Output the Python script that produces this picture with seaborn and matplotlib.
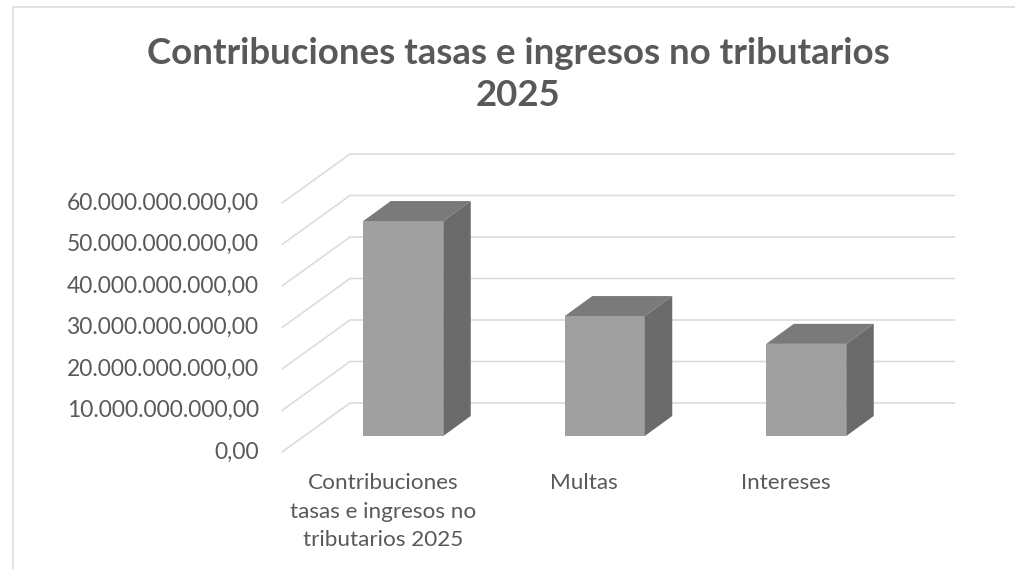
import matplotlib
matplotlib.use("Agg")
import matplotlib.pyplot as plt
import pandas as pd
import seaborn as sns
from matplotlib.patches import Polygon
from matplotlib.lines import Line2D
from matplotlib.transforms import ScaledTranslation

categories = ["Contribuciones\ntasas e ingresos no\ntributarios 2025", "Multas", "Intereses"]
values = [51.8e9, 28.9e9, 22.2e9]
y_ticks = [0, 10e9, 20e9, 30e9, 40e9, 50e9, 60e9]
y_labels = ["0,00", "10.000.000.000,00", "20.000.000.000,00", "30.000.000.000,00",
            "40.000.000.000,00", "50.000.000.000,00", "60.000.000.000,00"]
title = "Contribuciones tasas e ingresos no tributarios\n2025"

W, H = 1015, 569
TXT = "#595959"
GRID = "#dcdcdc"
FRONT, TOP, SIDE = "#a0a0a0", "#7a7a7a", "#6b6b6b"

sns.set_theme(style="white")
plt.rcParams["font.family"] = ["Lato", "DejaVu Sans"]

fig = plt.figure(figsize=(W / 100, H / 100), dpi=100, facecolor="white")
L, R, B, T = 282, 886.5, 452, 203
ax = fig.add_axes([L / W, 1 - B / H, (R - L) / W, (B - T) / H])
ax.patch.set_alpha(0)

df = pd.DataFrame({"categoria": categories, "valor": values})
sns.barplot(data=df, x="categoria", y="valor", color=FRONT, saturation=1,
            width=80 / 201.5, ax=ax, zorder=3)
ax.set_xlim(-0.5, 2.5)
ax.set_ylim(0, 60e9)
ax.set_xlabel("")
ax.set_ylabel("")

# oblique-projection depth, expressed in data units
px_x = 3 / (R - L)
px_y = 60e9 / (B - T)
wall_dx, wall_dy = 68 * px_x, 49 * px_y
bar_dx, bar_dy = 20.5 * px_x, 16 * px_y
deep_dx, deep_dy = 27.5 * px_x, 20 * px_y

# walls: gridlines
for v in y_ticks:
    ax.add_line(Line2D([-0.5, -0.5 + wall_dx, 2.5 + wall_dx], [v, v + wall_dy, v + wall_dy],
                       color=GRID, lw=1.2, clip_on=False, zorder=1, solid_joinstyle="miter"))

# bars shifted to mid depth + side/top faces
for p in ax.patches:
    p.set_x(p.get_x() + bar_dx)
    p.set_y(p.get_y() + bar_dy)
    p.set_clip_on(False)
    p.set_linewidth(0)
    x0, x1, y0 = p.get_x(), p.get_x() + p.get_width(), p.get_y()
    y1 = y0 + p.get_height()
    ax.add_patch(Polygon([(x0, y1), (x1, y1), (x1 + deep_dx, y1 + deep_dy), (x0 + deep_dx, y1 + deep_dy)],
                         closed=True, fc=TOP, ec="none", clip_on=False, zorder=3))
    ax.add_patch(Polygon([(x1, y0), (x1 + deep_dx, y0 + deep_dy), (x1 + deep_dx, y1 + deep_dy), (x1, y1)],
                         closed=True, fc=SIDE, ec="none", clip_on=False, zorder=3))

for s in ax.spines.values():
    s.set_visible(False)
ax.set_yticks(y_ticks, y_labels)
ax.tick_params(axis="y", length=0, pad=16.5, labelsize=16.4, labelcolor=TXT)
ax.tick_params(axis="x", length=0, pad=15, labelsize=16.2, labelcolor=TXT)
up = ScaledTranslation(0, 2 / 100, fig.dpi_scale_trans)
for lab in ax.get_yticklabels():
    lab.set_transform(lab.get_transform() + up)
for lab in ax.get_xticklabels():
    lab.set_linespacing(1.55)

fig.text(518 / W, 1 - 53 / H, title.split("\n")[0], ha="center", va="center",
         fontsize=26.4, fontweight="bold", color=TXT)
fig.text(518 / W, 1 - 95 / H, title.split("\n")[1], ha="center", va="center",
         fontsize=26.4, fontweight="bold", color=TXT)

# chart-area frame (left and top edges visible)
fig.add_artist(Line2D([12.5 / W, 12.5 / W, 1], [0, 1 - 6.5 / H, 1 - 6.5 / H],
                      color=GRID, lw=1.2, transform=fig.transFigure))

fig.savefig("out.png", dpi=100, facecolor="white")
